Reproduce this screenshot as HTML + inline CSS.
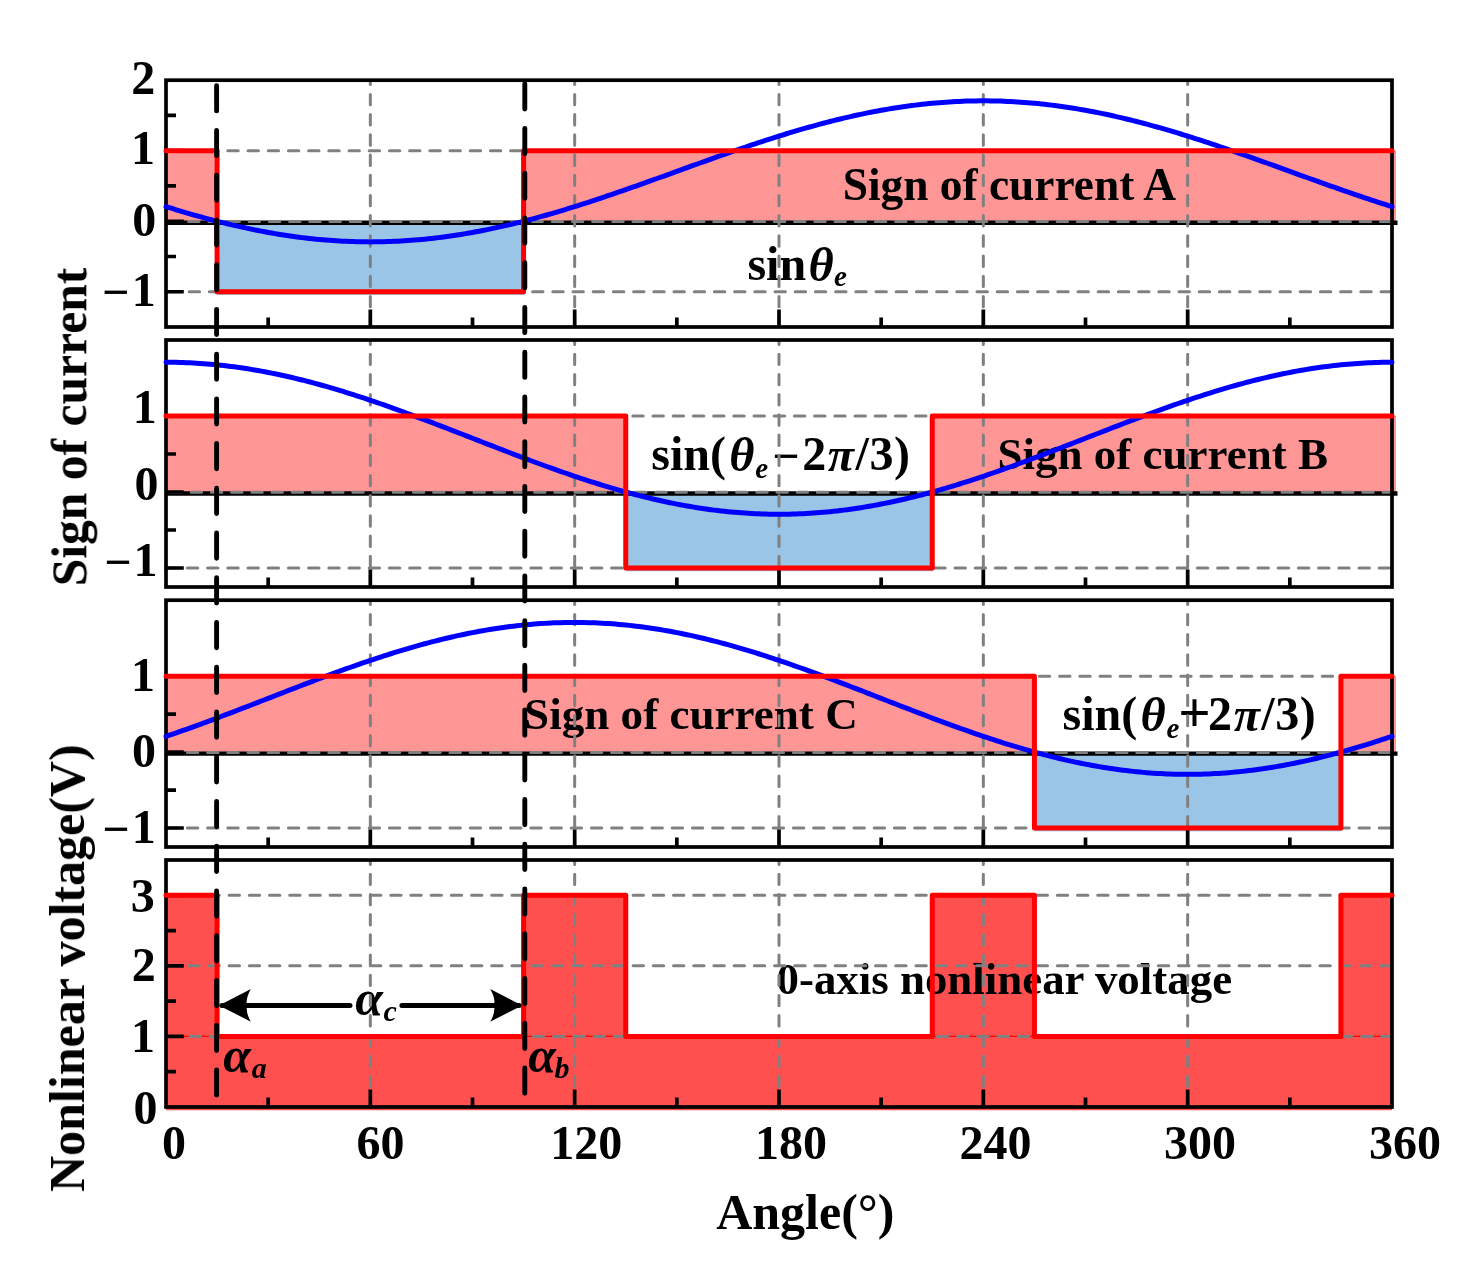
<!DOCTYPE html><html><head><meta charset="utf-8"><style>html,body{margin:0;padding:0;background:#fff;overflow:hidden}svg{display:block;will-change:transform}text{font-family:"Liberation Serif",serif;font-weight:bold;fill:#000}.it{font-style:italic}</style></head><body>
<svg width="1483" height="1279" viewBox="0 0 1483 1279">
<rect x="166.00" y="150.71" width="51.08" height="70.51" fill="#ff9696"/>
<rect x="217.08" y="221.23" width="307.50" height="73.81" fill="#9bc5e6"/>
<rect x="523.58" y="150.71" width="872.42" height="70.51" fill="#ff9696"/>
<rect x="166.00" y="416.00" width="459.75" height="76.00" fill="#ff9696"/>
<rect x="625.75" y="492.00" width="307.50" height="79.30" fill="#9bc5e6"/>
<rect x="932.25" y="416.00" width="463.75" height="76.00" fill="#ff9696"/>
<rect x="166.00" y="676.14" width="868.42" height="75.94" fill="#ff9696"/>
<rect x="1034.42" y="752.08" width="307.50" height="79.24" fill="#9bc5e6"/>
<rect x="1340.92" y="676.14" width="55.08" height="75.94" fill="#ff9696"/>
<polygon fill="#ff5050" points="166.00,1110.20 166.00,895.29 217.08,895.29 217.08,1036.43 523.58,1036.43 523.58,895.29 625.75,895.29 625.75,1036.43 932.25,1036.43 932.25,895.29 1034.42,895.29 1034.42,1036.43 1340.92,1036.43 1340.92,895.29 1392.00,895.29 1392.00,1110.20"/>
<g opacity="0.999"><text x="842.68" y="200.00" font-size="45.4">Sign of current A</text><text x="997.50" y="469.00" font-size="45.0">Sign of current B</text><text x="524.10" y="728.80" font-size="45.1">Sign of current C</text><text x="776.49" y="994.30" font-size="44.9">0-axis nonlinear voltage</text><text x="747.45" y="280.10" font-size="48">sin</text><text x="808.38" y="280.60" font-size="48.5" font-style="italic">θ</text><text x="834.12" y="286.30" font-size="29" font-style="italic">e</text><text x="651.25" y="469.70" font-size="48">sin(</text><text x="729.28" y="470.70" font-size="48.5" font-style="italic">θ</text><text x="755.22" y="477.70" font-size="29" font-style="italic">e</text><text x="772.37" y="471.70" font-size="48">−</text><text x="802.18" y="469.70" font-size="48">2</text><text x="827.85" y="470.70" font-size="48" font-style="italic">π</text><text x="855.47" y="469.70" font-size="48">/</text><text x="869.40" y="469.70" font-size="48">3</text><text x="894.05" y="469.70" font-size="48">)</text><text x="1062.55" y="729.60" font-size="48">sin(</text><text x="1140.58" y="730.60" font-size="48.5" font-style="italic">θ</text><text x="1166.52" y="737.60" font-size="29" font-style="italic">e</text><text x="1178.26" y="732.20" font-size="57" font-weight="normal">+</text><text x="1207.98" y="729.60" font-size="48">2</text><text x="1233.65" y="730.60" font-size="48" font-style="italic">π</text><text x="1261.27" y="729.60" font-size="48">/</text><text x="1275.20" y="729.60" font-size="48">3</text><text x="1299.85" y="729.60" font-size="48">)</text><text x="355.34" y="1015.30" font-size="50" font-style="italic">α</text><text x="383.46" y="1020.70" font-size="30" font-style="italic">c</text><text x="223.34" y="1071.60" font-size="50" font-style="italic">α</text><text x="251.65" y="1077.60" font-size="30" font-style="italic">a</text><text x="528.24" y="1071.80" font-size="50" font-style="italic">α</text><text x="554.50" y="1077.60" font-size="30" font-style="italic">b</text></g>
<line x1="166.00" y1="1036.43" x2="217.08" y2="1036.43" stroke="#ff0000" stroke-width="1.2"/>
<line x1="523.58" y1="1036.43" x2="625.75" y2="1036.43" stroke="#ff0000" stroke-width="1.2"/>
<line x1="932.25" y1="1036.43" x2="1034.42" y2="1036.43" stroke="#ff0000" stroke-width="1.2"/>
<line x1="1340.92" y1="1036.43" x2="1392.00" y2="1036.43" stroke="#ff0000" stroke-width="1.2"/>
<line x1="166.00" y1="222.73" x2="1397.50" y2="222.73" stroke="#000" stroke-width="4.4"/>
<line x1="166.00" y1="493.50" x2="1397.50" y2="493.50" stroke="#000" stroke-width="4.4"/>
<line x1="166.00" y1="753.58" x2="1397.50" y2="753.58" stroke="#000" stroke-width="4.4"/>
<line x1="370.33" y1="74.20" x2="370.33" y2="327.00" stroke="#808080" stroke-width="3" stroke-linecap="round" stroke-dasharray="10.4 9.8" clip-path="url(#cp0)"/>
<line x1="574.67" y1="74.20" x2="574.67" y2="327.00" stroke="#808080" stroke-width="3" stroke-linecap="round" stroke-dasharray="10.4 9.8" clip-path="url(#cp0)"/>
<line x1="779.00" y1="74.20" x2="779.00" y2="327.00" stroke="#808080" stroke-width="3" stroke-linecap="round" stroke-dasharray="10.4 9.8" clip-path="url(#cp0)"/>
<line x1="983.33" y1="74.20" x2="983.33" y2="327.00" stroke="#808080" stroke-width="3" stroke-linecap="round" stroke-dasharray="10.4 9.8" clip-path="url(#cp0)"/>
<line x1="1187.67" y1="74.20" x2="1187.67" y2="327.00" stroke="#808080" stroke-width="3" stroke-linecap="round" stroke-dasharray="10.4 9.8" clip-path="url(#cp0)"/>
<line x1="167.20" y1="150.71" x2="1390.00" y2="150.71" stroke="#808080" stroke-width="3" stroke-linecap="round" stroke-dasharray="10.4 9.8"/>
<line x1="168.40" y1="221.53" x2="1390.00" y2="221.53" stroke="#808080" stroke-width="3" stroke-linecap="round" stroke-dasharray="10.4 9.8"/>
<line x1="169.00" y1="291.74" x2="1390.00" y2="291.74" stroke="#808080" stroke-width="3" stroke-linecap="round" stroke-dasharray="10.4 9.8"/>
<line x1="370.33" y1="334.00" x2="370.33" y2="587.00" stroke="#808080" stroke-width="3" stroke-linecap="round" stroke-dasharray="10.4 9.8" clip-path="url(#cp1)"/>
<line x1="574.67" y1="334.00" x2="574.67" y2="587.00" stroke="#808080" stroke-width="3" stroke-linecap="round" stroke-dasharray="10.4 9.8" clip-path="url(#cp1)"/>
<line x1="779.00" y1="334.00" x2="779.00" y2="587.00" stroke="#808080" stroke-width="3" stroke-linecap="round" stroke-dasharray="10.4 9.8" clip-path="url(#cp1)"/>
<line x1="983.33" y1="334.00" x2="983.33" y2="587.00" stroke="#808080" stroke-width="3" stroke-linecap="round" stroke-dasharray="10.4 9.8" clip-path="url(#cp1)"/>
<line x1="1187.67" y1="334.00" x2="1187.67" y2="587.00" stroke="#808080" stroke-width="3" stroke-linecap="round" stroke-dasharray="10.4 9.8" clip-path="url(#cp1)"/>
<line x1="168.20" y1="416.00" x2="1390.00" y2="416.00" stroke="#808080" stroke-width="3" stroke-linecap="round" stroke-dasharray="10.4 9.8"/>
<line x1="171.00" y1="492.30" x2="1390.00" y2="492.30" stroke="#808080" stroke-width="3" stroke-linecap="round" stroke-dasharray="10.4 9.8"/>
<line x1="167.20" y1="568.00" x2="1390.00" y2="568.00" stroke="#808080" stroke-width="3" stroke-linecap="round" stroke-dasharray="10.4 9.8"/>
<line x1="370.33" y1="594.20" x2="370.33" y2="847.00" stroke="#808080" stroke-width="3" stroke-linecap="round" stroke-dasharray="10.4 9.8" clip-path="url(#cp2)"/>
<line x1="574.67" y1="594.20" x2="574.67" y2="847.00" stroke="#808080" stroke-width="3" stroke-linecap="round" stroke-dasharray="10.4 9.8" clip-path="url(#cp2)"/>
<line x1="779.00" y1="594.20" x2="779.00" y2="847.00" stroke="#808080" stroke-width="3" stroke-linecap="round" stroke-dasharray="10.4 9.8" clip-path="url(#cp2)"/>
<line x1="983.33" y1="594.20" x2="983.33" y2="847.00" stroke="#808080" stroke-width="3" stroke-linecap="round" stroke-dasharray="10.4 9.8" clip-path="url(#cp2)"/>
<line x1="1187.67" y1="594.20" x2="1187.67" y2="847.00" stroke="#808080" stroke-width="3" stroke-linecap="round" stroke-dasharray="10.4 9.8" clip-path="url(#cp2)"/>
<line x1="170.80" y1="676.14" x2="1390.00" y2="676.14" stroke="#808080" stroke-width="3" stroke-linecap="round" stroke-dasharray="10.4 9.8"/>
<line x1="167.20" y1="752.38" x2="1390.00" y2="752.38" stroke="#808080" stroke-width="3" stroke-linecap="round" stroke-dasharray="10.4 9.8"/>
<line x1="167.20" y1="828.02" x2="1390.00" y2="828.02" stroke="#808080" stroke-width="3" stroke-linecap="round" stroke-dasharray="10.4 9.8"/>
<line x1="370.33" y1="854.00" x2="370.33" y2="1107.00" stroke="#808080" stroke-width="3" stroke-linecap="round" stroke-dasharray="10.4 9.8" clip-path="url(#cp3)"/>
<line x1="574.67" y1="854.00" x2="574.67" y2="1107.00" stroke="#808080" stroke-width="3" stroke-linecap="round" stroke-dasharray="10.4 9.8" clip-path="url(#cp3)"/>
<line x1="779.00" y1="854.00" x2="779.00" y2="1107.00" stroke="#808080" stroke-width="3" stroke-linecap="round" stroke-dasharray="10.4 9.8" clip-path="url(#cp3)"/>
<line x1="983.33" y1="854.00" x2="983.33" y2="1107.00" stroke="#808080" stroke-width="3" stroke-linecap="round" stroke-dasharray="10.4 9.8" clip-path="url(#cp3)"/>
<line x1="1187.67" y1="854.00" x2="1187.67" y2="1107.00" stroke="#808080" stroke-width="3" stroke-linecap="round" stroke-dasharray="10.4 9.8" clip-path="url(#cp3)"/>
<line x1="169.80" y1="1036.43" x2="1390.00" y2="1036.43" stroke="#808080" stroke-width="3" stroke-linecap="round" stroke-dasharray="10.4 9.8"/>
<line x1="168.50" y1="965.86" x2="1390.00" y2="965.86" stroke="#808080" stroke-width="3" stroke-linecap="round" stroke-dasharray="10.4 9.8"/>
<line x1="168.50" y1="895.29" x2="1390.00" y2="895.29" stroke="#808080" stroke-width="3" stroke-linecap="round" stroke-dasharray="10.4 9.8"/>
<defs><clipPath id="cp0"><rect x="0" y="80.20" width="1483" height="246.80"/></clipPath><clipPath id="cp1"><rect x="0" y="340.00" width="1483" height="247.00"/></clipPath><clipPath id="cp2"><rect x="0" y="600.20" width="1483" height="246.80"/></clipPath><clipPath id="cp3"><rect x="0" y="860.00" width="1483" height="247.00"/></clipPath></defs>
<rect x="166.00" y="80.20" width="1226.00" height="246.80" fill="none" stroke="#000" stroke-width="3.7"/>
<path d="M166.00 291.74h17.8M166.00 256.49h10M166.00 221.23h17.8M166.00 185.97h10M166.00 150.71h17.8M166.00 115.46h10M268.17 327.00v-9.6M370.33 327.00v-17.6M472.50 327.00v-9.6M574.67 327.00v-17.6M676.83 327.00v-9.6M779.00 327.00v-17.6M881.17 327.00v-9.6M983.33 327.00v-17.6M1085.50 327.00v-9.6M1187.67 327.00v-17.6M1289.83 327.00v-9.6" stroke="#000" stroke-width="3.7" fill="none"/>
<rect x="166.00" y="340.00" width="1226.00" height="247.00" fill="none" stroke="#000" stroke-width="3.7"/>
<path d="M166.00 568.00h17.8M166.00 530.00h10M166.00 492.00h17.8M166.00 454.00h10M166.00 416.00h17.8M268.17 587.00v-9.6M370.33 587.00v-17.6M472.50 587.00v-9.6M574.67 587.00v-17.6M676.83 587.00v-9.6M779.00 587.00v-17.6M881.17 587.00v-9.6M983.33 587.00v-17.6M1085.50 587.00v-9.6M1187.67 587.00v-17.6M1289.83 587.00v-9.6" stroke="#000" stroke-width="3.7" fill="none"/>
<rect x="166.00" y="600.20" width="1226.00" height="246.80" fill="none" stroke="#000" stroke-width="3.7"/>
<path d="M166.00 828.02h17.8M166.00 790.05h10M166.00 752.08h17.8M166.00 714.11h10M166.00 676.14h17.8M268.17 847.00v-9.6M370.33 847.00v-17.6M472.50 847.00v-9.6M574.67 847.00v-17.6M676.83 847.00v-9.6M779.00 847.00v-17.6M881.17 847.00v-9.6M983.33 847.00v-17.6M1085.50 847.00v-9.6M1187.67 847.00v-17.6M1289.83 847.00v-9.6" stroke="#000" stroke-width="3.7" fill="none"/>
<rect x="166.00" y="860.00" width="1226.00" height="247.00" fill="none" stroke="#000" stroke-width="3.7"/>
<path d="M166.00 1071.71h10M166.00 1036.43h17.8M166.00 1001.14h10M166.00 965.86h17.8M166.00 930.57h10M166.00 895.29h17.8M268.17 1107.00v-9.6M370.33 1107.00v-17.6M472.50 1107.00v-9.6M574.67 1107.00v-17.6M676.83 1107.00v-9.6M779.00 1107.00v-17.6M881.17 1107.00v-9.6M983.33 1107.00v-17.6M1085.50 1107.00v-9.6M1187.67 1107.00v-17.6M1289.83 1107.00v-9.6" stroke="#000" stroke-width="3.7" fill="none"/>
<path d="M166.00 206.63L169.41 207.69L172.81 208.73L176.22 209.77L179.62 210.80L183.03 211.81L186.43 212.82L189.84 213.80L193.24 214.78L196.65 215.74L200.06 216.69L203.46 217.63L206.87 218.55L210.27 219.46L213.68 220.35L217.08 221.23L220.49 222.09L223.89 222.94L227.30 223.77L230.71 224.59L234.11 225.38L237.52 226.17L240.92 226.93L244.33 227.68L247.73 228.42L251.14 229.13L254.54 229.83L257.95 230.51L261.36 231.17L264.76 231.81L268.17 232.44L271.57 233.04L274.98 233.63L278.38 234.20L281.79 234.75L285.19 235.28L288.60 235.79L292.01 236.28L295.41 236.75L298.82 237.20L302.22 237.63L305.63 238.04L309.03 238.43L312.44 238.80L315.84 239.15L319.25 239.48L322.66 239.79L326.06 240.07L329.47 240.34L332.87 240.59L336.28 240.81L339.68 241.01L343.09 241.20L346.49 241.36L349.90 241.50L353.31 241.61L356.71 241.71L360.12 241.79L363.52 241.84L366.93 241.87L370.33 241.88L373.74 241.87L377.14 241.84L380.55 241.79L383.96 241.71L387.36 241.61L390.77 241.50L394.17 241.36L397.58 241.20L400.98 241.01L404.39 240.81L407.79 240.59L411.20 240.34L414.61 240.07L418.01 239.79L421.42 239.48L424.82 239.15L428.23 238.80L431.63 238.43L435.04 238.04L438.44 237.63L441.85 237.20L445.26 236.75L448.66 236.28L452.07 235.79L455.47 235.28L458.88 234.75L462.28 234.20L465.69 233.63L469.09 233.04L472.50 232.44L475.91 231.81L479.31 231.17L482.72 230.51L486.12 229.83L489.53 229.13L492.93 228.42L496.34 227.68L499.74 226.93L503.15 226.17L506.56 225.38L509.96 224.59L513.37 223.77L516.77 222.94L520.18 222.09L523.58 221.23L526.99 220.35L530.39 219.46L533.80 218.55L537.21 217.63L540.61 216.69L544.02 215.74L547.42 214.78L550.83 213.80L554.23 212.82L557.64 211.81L561.04 210.80L564.45 209.77L567.86 208.73L571.26 207.69L574.67 206.63L578.07 205.55L581.48 204.47L584.88 203.38L588.29 202.28L591.69 201.17L595.10 200.05L598.51 198.92L601.91 197.78L605.32 196.64L608.72 195.49L612.13 194.33L615.53 193.16L618.94 191.98L622.34 190.80L625.75 189.62L629.16 188.43L632.56 187.23L635.97 186.03L639.37 184.82L642.78 183.61L646.18 182.40L649.59 181.18L652.99 179.96L656.40 178.74L659.81 177.51L663.21 176.29L666.62 175.06L670.02 173.83L673.43 172.60L676.83 171.37L680.24 170.14L683.64 168.91L687.05 167.68L690.46 166.45L693.86 165.22L697.27 164.00L700.67 162.77L704.08 161.55L707.48 160.34L710.89 159.12L714.29 157.91L717.70 156.71L721.11 155.51L724.51 154.31L727.92 153.12L731.32 151.93L734.73 150.75L738.13 149.58L741.54 148.41L744.94 147.25L748.35 146.10L751.76 144.95L755.16 143.82L758.57 142.69L761.97 141.57L765.38 140.46L768.78 139.36L772.19 138.26L775.59 137.18L779.00 136.11L782.41 135.05L785.81 134.00L789.22 132.96L792.62 131.94L796.03 130.92L799.43 129.92L802.84 128.93L806.24 127.95L809.65 126.99L813.06 126.04L816.46 125.11L819.87 124.18L823.27 123.28L826.68 122.38L830.08 121.51L833.49 120.64L836.89 119.80L840.30 118.97L843.71 118.15L847.11 117.35L850.52 116.57L853.92 115.80L857.33 115.05L860.73 114.32L864.14 113.61L867.54 112.91L870.95 112.23L874.36 111.57L877.76 110.93L881.17 110.30L884.57 109.69L887.98 109.11L891.38 108.54L894.79 107.99L898.19 107.46L901.60 106.95L905.01 106.46L908.41 105.99L911.82 105.54L915.22 105.11L918.63 104.70L922.03 104.30L925.44 103.93L928.84 103.59L932.25 103.26L935.66 102.95L939.06 102.66L942.47 102.39L945.87 102.15L949.28 101.92L952.68 101.72L956.09 101.54L959.49 101.38L962.90 101.24L966.31 101.12L969.71 101.03L973.12 100.95L976.52 100.90L979.93 100.86L983.33 100.85L986.74 100.86L990.14 100.90L993.55 100.95L996.96 101.03L1000.36 101.12L1003.77 101.24L1007.17 101.38L1010.58 101.54L1013.98 101.72L1017.39 101.92L1020.79 102.15L1024.20 102.39L1027.61 102.66L1031.01 102.95L1034.42 103.26L1037.82 103.59L1041.23 103.93L1044.63 104.30L1048.04 104.70L1051.44 105.11L1054.85 105.54L1058.26 105.99L1061.66 106.46L1065.07 106.95L1068.47 107.46L1071.88 107.99L1075.28 108.54L1078.69 109.11L1082.09 109.69L1085.50 110.30L1088.91 110.93L1092.31 111.57L1095.72 112.23L1099.12 112.91L1102.53 113.61L1105.93 114.32L1109.34 115.05L1112.74 115.80L1116.15 116.57L1119.56 117.35L1122.96 118.15L1126.37 118.97L1129.77 119.80L1133.18 120.64L1136.58 121.51L1139.99 122.38L1143.39 123.28L1146.80 124.18L1150.21 125.11L1153.61 126.04L1157.02 126.99L1160.42 127.95L1163.83 128.93L1167.23 129.92L1170.64 130.92L1174.04 131.94L1177.45 132.96L1180.86 134.00L1184.26 135.05L1187.67 136.11L1191.07 137.18L1194.48 138.26L1197.88 139.36L1201.29 140.46L1204.69 141.57L1208.10 142.69L1211.51 143.82L1214.91 144.95L1218.32 146.10L1221.72 147.25L1225.13 148.41L1228.53 149.58L1231.94 150.75L1235.34 151.93L1238.75 153.12L1242.16 154.31L1245.56 155.51L1248.97 156.71L1252.37 157.91L1255.78 159.12L1259.18 160.34L1262.59 161.55L1265.99 162.77L1269.40 164.00L1272.81 165.22L1276.21 166.45L1279.62 167.68L1283.02 168.91L1286.43 170.14L1289.83 171.37L1293.24 172.60L1296.64 173.83L1300.05 175.06L1303.46 176.29L1306.86 177.51L1310.27 178.74L1313.67 179.96L1317.08 181.18L1320.48 182.40L1323.89 183.61L1327.29 184.82L1330.70 186.03L1334.11 187.23L1337.51 188.43L1340.92 189.62L1344.32 190.80L1347.73 191.98L1351.13 193.16L1354.54 194.33L1357.94 195.49L1361.35 196.64L1364.76 197.78L1368.16 198.92L1371.57 200.05L1374.97 201.17L1378.38 202.28L1381.78 203.38L1385.19 204.47L1388.59 205.55L1392.00 206.63" stroke="#0000ff" stroke-width="5" fill="none" stroke-linecap="round" stroke-linejoin="round"/>
<path d="M166.00 362.26L169.41 362.27L172.81 362.31L176.22 362.36L179.62 362.45L183.03 362.55L186.43 362.68L189.84 362.83L193.24 363.00L196.65 363.20L200.06 363.42L203.46 363.66L206.87 363.92L210.27 364.21L213.68 364.52L217.08 364.85L220.49 365.20L223.89 365.58L227.30 365.98L230.71 366.40L234.11 366.84L237.52 367.31L240.92 367.79L244.33 368.30L247.73 368.83L251.14 369.38L254.54 369.95L257.95 370.54L261.36 371.16L264.76 371.79L268.17 372.44L271.57 373.12L274.98 373.81L278.38 374.52L281.79 375.25L285.19 376.00L288.60 376.78L292.01 377.56L295.41 378.37L298.82 379.20L302.22 380.04L305.63 380.90L309.03 381.78L312.44 382.68L315.84 383.59L319.25 384.52L322.66 385.47L326.06 386.43L329.47 387.41L332.87 388.40L336.28 389.41L339.68 390.43L343.09 391.47L346.49 392.52L349.90 393.59L353.31 394.67L356.71 395.76L360.12 396.87L363.52 397.99L366.93 399.12L370.33 400.26L373.74 401.41L377.14 402.58L380.55 403.76L383.96 404.94L387.36 406.14L390.77 407.35L394.17 408.56L397.58 409.79L400.98 411.02L404.39 412.27L407.79 413.52L411.20 414.78L414.61 416.04L418.01 417.31L421.42 418.59L424.82 419.87L428.23 421.16L431.63 422.46L435.04 423.76L438.44 425.06L441.85 426.37L445.26 427.68L448.66 429.00L452.07 430.32L455.47 431.64L458.88 432.96L462.28 434.28L465.69 435.61L469.09 436.93L472.50 438.26L475.91 439.59L479.31 440.91L482.72 442.24L486.12 443.56L489.53 444.88L492.93 446.20L496.34 447.52L499.74 448.84L503.15 450.15L506.56 451.46L509.96 452.76L513.37 454.06L516.77 455.36L520.18 456.65L523.58 457.93L526.99 459.21L530.39 460.48L533.80 461.75L537.21 463.00L540.61 464.25L544.02 465.50L547.42 466.73L550.83 467.96L554.23 469.17L557.64 470.38L561.04 471.58L564.45 472.76L567.86 473.94L571.26 475.11L574.67 476.26L578.07 477.40L581.48 478.53L584.88 479.65L588.29 480.76L591.69 481.85L595.10 482.93L598.51 484.00L601.91 485.05L605.32 486.09L608.72 487.11L612.13 488.12L615.53 489.11L618.94 490.09L622.34 491.05L625.75 492.00L629.16 492.93L632.56 493.84L635.97 494.74L639.37 495.62L642.78 496.48L646.18 497.32L649.59 498.15L652.99 498.96L656.40 499.75L659.81 500.52L663.21 501.27L666.62 502.00L670.02 502.71L673.43 503.41L676.83 504.08L680.24 504.73L683.64 505.36L687.05 505.98L690.46 506.57L693.86 507.14L697.27 507.69L700.67 508.22L704.08 508.73L707.48 509.21L710.89 509.68L714.29 510.12L717.70 510.54L721.11 510.94L724.51 511.32L727.92 511.67L731.32 512.00L734.73 512.31L738.13 512.60L741.54 512.86L744.94 513.11L748.35 513.32L751.76 513.52L755.16 513.69L758.57 513.84L761.97 513.97L765.38 514.08L768.78 514.16L772.19 514.21L775.59 514.25L779.00 514.26L782.41 514.25L785.81 514.21L789.22 514.16L792.62 514.08L796.03 513.97L799.43 513.84L802.84 513.69L806.24 513.52L809.65 513.32L813.06 513.11L816.46 512.86L819.87 512.60L823.27 512.31L826.68 512.00L830.08 511.67L833.49 511.32L836.89 510.94L840.30 510.54L843.71 510.12L847.11 509.68L850.52 509.21L853.92 508.73L857.33 508.22L860.73 507.69L864.14 507.14L867.54 506.57L870.95 505.98L874.36 505.36L877.76 504.73L881.17 504.08L884.57 503.41L887.98 502.71L891.38 502.00L894.79 501.27L898.19 500.52L901.60 499.75L905.01 498.96L908.41 498.15L911.82 497.32L915.22 496.48L918.63 495.62L922.03 494.74L925.44 493.84L928.84 492.93L932.25 492.00L935.66 491.05L939.06 490.09L942.47 489.11L945.87 488.12L949.28 487.11L952.68 486.09L956.09 485.05L959.49 484.00L962.90 482.93L966.31 481.85L969.71 480.76L973.12 479.65L976.52 478.53L979.93 477.40L983.33 476.26L986.74 475.11L990.14 473.94L993.55 472.76L996.96 471.58L1000.36 470.38L1003.77 469.17L1007.17 467.96L1010.58 466.73L1013.98 465.50L1017.39 464.25L1020.79 463.00L1024.20 461.75L1027.61 460.48L1031.01 459.21L1034.42 457.93L1037.82 456.65L1041.23 455.36L1044.63 454.06L1048.04 452.76L1051.44 451.46L1054.85 450.15L1058.26 448.84L1061.66 447.52L1065.07 446.20L1068.47 444.88L1071.88 443.56L1075.28 442.24L1078.69 440.91L1082.09 439.59L1085.50 438.26L1088.91 436.93L1092.31 435.61L1095.72 434.28L1099.12 432.96L1102.53 431.64L1105.93 430.32L1109.34 429.00L1112.74 427.68L1116.15 426.37L1119.56 425.06L1122.96 423.76L1126.37 422.46L1129.77 421.16L1133.18 419.87L1136.58 418.59L1139.99 417.31L1143.39 416.04L1146.80 414.78L1150.21 413.52L1153.61 412.27L1157.02 411.02L1160.42 409.79L1163.83 408.56L1167.23 407.35L1170.64 406.14L1174.04 404.94L1177.45 403.76L1180.86 402.58L1184.26 401.41L1187.67 400.26L1191.07 399.12L1194.48 397.99L1197.88 396.87L1201.29 395.76L1204.69 394.67L1208.10 393.59L1211.51 392.52L1214.91 391.47L1218.32 390.43L1221.72 389.41L1225.13 388.40L1228.53 387.41L1231.94 386.43L1235.34 385.47L1238.75 384.52L1242.16 383.59L1245.56 382.68L1248.97 381.78L1252.37 380.90L1255.78 380.04L1259.18 379.20L1262.59 378.37L1265.99 377.56L1269.40 376.78L1272.81 376.00L1276.21 375.25L1279.62 374.52L1283.02 373.81L1286.43 373.12L1289.83 372.44L1293.24 371.79L1296.64 371.16L1300.05 370.54L1303.46 369.95L1306.86 369.38L1310.27 368.83L1313.67 368.30L1317.08 367.79L1320.48 367.31L1323.89 366.84L1327.29 366.40L1330.70 365.98L1334.11 365.58L1337.51 365.20L1340.92 364.85L1344.32 364.52L1347.73 364.21L1351.13 363.92L1354.54 363.66L1357.94 363.42L1361.35 363.20L1364.76 363.00L1368.16 362.83L1371.57 362.68L1374.97 362.55L1378.38 362.45L1381.78 362.36L1385.19 362.31L1388.59 362.27L1392.00 362.26" stroke="#0000ff" stroke-width="5" fill="none" stroke-linecap="round" stroke-linejoin="round"/>
<path d="M166.00 736.35L169.41 735.20L172.81 734.03L176.22 732.86L179.62 731.67L183.03 730.47L186.43 729.27L189.84 728.05L193.24 726.83L196.65 725.59L200.06 724.35L203.46 723.10L206.87 721.85L210.27 720.58L213.68 719.31L217.08 718.04L220.49 716.75L223.89 715.46L227.30 714.17L230.71 712.87L234.11 711.57L237.52 710.26L240.92 708.95L244.33 707.64L247.73 706.32L251.14 705.00L254.54 703.68L257.95 702.36L261.36 701.03L264.76 699.71L268.17 698.38L271.57 697.06L274.98 695.73L278.38 694.41L281.79 693.08L285.19 691.76L288.60 690.44L292.01 689.13L295.41 687.81L298.82 686.50L302.22 685.19L305.63 683.89L309.03 682.59L312.44 681.30L315.84 680.01L319.25 678.73L322.66 677.45L326.06 676.18L329.47 674.91L332.87 673.66L336.28 672.41L339.68 671.17L343.09 669.93L346.49 668.71L349.90 667.49L353.31 666.29L356.71 665.09L360.12 663.91L363.52 662.73L366.93 661.57L370.33 660.41L373.74 659.27L377.14 658.14L380.55 657.02L383.96 655.92L387.36 654.82L390.77 653.75L394.17 652.68L397.58 651.63L400.98 650.59L404.39 649.57L407.79 648.56L411.20 647.57L414.61 646.59L418.01 645.63L421.42 644.68L424.82 643.76L428.23 642.84L431.63 641.95L435.04 641.07L438.44 640.21L441.85 639.37L445.26 638.54L448.66 637.73L452.07 636.95L455.47 636.18L458.88 635.42L462.28 634.69L465.69 633.98L469.09 633.29L472.50 632.62L475.91 631.96L479.31 631.33L482.72 630.72L486.12 630.13L489.53 629.56L492.93 629.01L496.34 628.48L499.74 627.97L503.15 627.49L506.56 627.02L509.96 626.58L513.37 626.16L516.77 625.76L520.18 625.38L523.58 625.03L526.99 624.70L530.39 624.39L533.80 624.10L537.21 623.84L540.61 623.60L544.02 623.38L547.42 623.18L550.83 623.01L554.23 622.86L557.64 622.73L561.04 622.63L564.45 622.55L567.86 622.49L571.26 622.45L574.67 622.44L578.07 622.45L581.48 622.49L584.88 622.55L588.29 622.63L591.69 622.73L595.10 622.86L598.51 623.01L601.91 623.18L605.32 623.38L608.72 623.60L612.13 623.84L615.53 624.10L618.94 624.39L622.34 624.70L625.75 625.03L629.16 625.38L632.56 625.76L635.97 626.16L639.37 626.58L642.78 627.02L646.18 627.49L649.59 627.97L652.99 628.48L656.40 629.01L659.81 629.56L663.21 630.13L666.62 630.72L670.02 631.33L673.43 631.96L676.83 632.62L680.24 633.29L683.64 633.98L687.05 634.69L690.46 635.42L693.86 636.18L697.27 636.95L700.67 637.73L704.08 638.54L707.48 639.37L710.89 640.21L714.29 641.07L717.70 641.95L721.11 642.84L724.51 643.76L727.92 644.68L731.32 645.63L734.73 646.59L738.13 647.57L741.54 648.56L744.94 649.57L748.35 650.59L751.76 651.63L755.16 652.68L758.57 653.75L761.97 654.82L765.38 655.92L768.78 657.02L772.19 658.14L775.59 659.27L779.00 660.41L782.41 661.57L785.81 662.73L789.22 663.91L792.62 665.09L796.03 666.29L799.43 667.49L802.84 668.71L806.24 669.93L809.65 671.17L813.06 672.41L816.46 673.66L819.87 674.91L823.27 676.18L826.68 677.45L830.08 678.73L833.49 680.01L836.89 681.30L840.30 682.59L843.71 683.89L847.11 685.19L850.52 686.50L853.92 687.81L857.33 689.13L860.73 690.44L864.14 691.76L867.54 693.08L870.95 694.41L874.36 695.73L877.76 697.06L881.17 698.38L884.57 699.71L887.98 701.03L891.38 702.36L894.79 703.68L898.19 705.00L901.60 706.32L905.01 707.64L908.41 708.95L911.82 710.26L915.22 711.57L918.63 712.87L922.03 714.17L925.44 715.46L928.84 716.75L932.25 718.04L935.66 719.31L939.06 720.58L942.47 721.85L945.87 723.10L949.28 724.35L952.68 725.59L956.09 726.83L959.49 728.05L962.90 729.27L966.31 730.47L969.71 731.67L973.12 732.86L976.52 734.03L979.93 735.20L983.33 736.35L986.74 737.49L990.14 738.62L993.55 739.74L996.96 740.85L1000.36 741.94L1003.77 743.02L1007.17 744.08L1010.58 745.13L1013.98 746.17L1017.39 747.19L1020.79 748.20L1024.20 749.19L1027.61 750.17L1031.01 751.13L1034.42 752.08L1037.82 753.01L1041.23 753.92L1044.63 754.81L1048.04 755.69L1051.44 756.55L1054.85 757.40L1058.26 758.22L1061.66 759.03L1065.07 759.82L1068.47 760.59L1071.88 761.34L1075.28 762.07L1078.69 762.78L1082.09 763.47L1085.50 764.15L1088.91 764.80L1092.31 765.43L1095.72 766.04L1099.12 766.63L1102.53 767.20L1105.93 767.75L1109.34 768.28L1112.74 768.79L1116.15 769.28L1119.56 769.74L1122.96 770.18L1126.37 770.60L1129.77 771.00L1133.18 771.38L1136.58 771.73L1139.99 772.06L1143.39 772.37L1146.80 772.66L1150.21 772.92L1153.61 773.17L1157.02 773.38L1160.42 773.58L1163.83 773.75L1167.23 773.90L1170.64 774.03L1174.04 774.13L1177.45 774.22L1180.86 774.27L1184.26 774.31L1187.67 774.32L1191.07 774.31L1194.48 774.27L1197.88 774.22L1201.29 774.13L1204.69 774.03L1208.10 773.90L1211.51 773.75L1214.91 773.58L1218.32 773.38L1221.72 773.17L1225.13 772.92L1228.53 772.66L1231.94 772.37L1235.34 772.06L1238.75 771.73L1242.16 771.38L1245.56 771.00L1248.97 770.60L1252.37 770.18L1255.78 769.74L1259.18 769.28L1262.59 768.79L1265.99 768.28L1269.40 767.75L1272.81 767.20L1276.21 766.63L1279.62 766.04L1283.02 765.43L1286.43 764.80L1289.83 764.15L1293.24 763.47L1296.64 762.78L1300.05 762.07L1303.46 761.34L1306.86 760.59L1310.27 759.82L1313.67 759.03L1317.08 758.22L1320.48 757.40L1323.89 756.55L1327.29 755.69L1330.70 754.81L1334.11 753.92L1337.51 753.01L1340.92 752.08L1344.32 751.13L1347.73 750.17L1351.13 749.19L1354.54 748.20L1357.94 747.19L1361.35 746.17L1364.76 745.13L1368.16 744.08L1371.57 743.02L1374.97 741.94L1378.38 740.85L1381.78 739.74L1385.19 738.62L1388.59 737.49L1392.00 736.35" stroke="#0000ff" stroke-width="5" fill="none" stroke-linecap="round" stroke-linejoin="round"/>
<path d="M166.00 150.71L217.08 150.71L217.08 291.74L523.58 291.74L523.58 150.71L1392.00 150.71" stroke="#ff0000" stroke-width="5" fill="none" stroke-linecap="round" stroke-linejoin="round"/>
<path d="M166.00 416.00L625.75 416.00L625.75 568.00L932.25 568.00L932.25 416.00L1392.00 416.00" stroke="#ff0000" stroke-width="5" fill="none" stroke-linecap="round" stroke-linejoin="round"/>
<path d="M166.00 676.14L1034.42 676.14L1034.42 828.02L1340.92 828.02L1340.92 676.14L1392.00 676.14" stroke="#ff0000" stroke-width="5" fill="none" stroke-linecap="round" stroke-linejoin="round"/>
<path d="M166.00 895.29L217.08 895.29L217.08 1036.43L523.58 1036.43L523.58 895.29L625.75 895.29L625.75 1036.43L932.25 1036.43L932.25 895.29L1034.42 895.29L1034.42 1036.43L1340.92 1036.43L1340.92 895.29L1392.00 895.29" stroke="#ff0000" stroke-width="5" fill="none" stroke-linecap="round" stroke-linejoin="round"/>
<line x1="216.6" y1="85.65" x2="216.6" y2="1095.3" stroke="#000" stroke-width="4.9" stroke-linecap="round" stroke-dasharray="25.24 19.5"/>
<line x1="524.8" y1="83.7" x2="524.8" y2="1095.3" stroke="#000" stroke-width="4.9" stroke-linecap="round" stroke-dasharray="25.24 19.5"/>
<path d="M222 1005.4H350M401.9 1005.4H519" stroke="#000" stroke-width="5" stroke-linecap="round"/>
<path d="M219 1005.4L250.9 989.1Q246 997 246.7 1005.4Q246 1014 250.9 1021.7Z" fill="#000"/>
<path d="M522.1 1005.4L490.2 989.1Q495.1 997 494.4 1005.4Q495.1 1014 490.2 1021.7Z" fill="#000"/>
<g opacity="0.999"><text x="155.26" y="94.00" font-size="48" text-anchor="end">2</text><text x="155.08" y="164.00" font-size="48" text-anchor="end">1</text><text x="156.13" y="235.70" font-size="48" text-anchor="end">0</text><text x="155.68" y="306.30" font-size="48" text-anchor="end">1</text><text x="102.07" y="307.80" font-size="48">−</text><text x="156.68" y="423.10" font-size="48" text-anchor="end">1</text><text x="158.43" y="499.50" font-size="48" text-anchor="end">0</text><text x="157.48" y="576.40" font-size="48" text-anchor="end">1</text><text x="104.27" y="577.90" font-size="48">−</text><text x="154.98" y="691.00" font-size="48" text-anchor="end">1</text><text x="156.03" y="767.40" font-size="48" text-anchor="end">0</text><text x="155.78" y="843.00" font-size="48" text-anchor="end">1</text><text x="102.37" y="844.50" font-size="48">−</text><text x="154.64" y="911.50" font-size="48" text-anchor="end">3</text><text x="155.66" y="981.40" font-size="48" text-anchor="end">2</text><text x="155.08" y="1052.00" font-size="48" text-anchor="end">1</text><text x="157.53" y="1123.60" font-size="48" text-anchor="end">0</text><text x="174.0" y="1159.4" font-size="48" text-anchor="middle">0</text><text x="380.4" y="1159.4" font-size="48" text-anchor="middle">60</text><text x="586.2" y="1159.4" font-size="48" text-anchor="middle">120</text><text x="791.1" y="1159.4" font-size="48" text-anchor="middle">180</text><text x="995.5" y="1159.4" font-size="48" text-anchor="middle">240</text><text x="1200" y="1159.4" font-size="48" text-anchor="middle">300</text><text x="1405" y="1159.4" font-size="48" text-anchor="middle">360</text>
<text x="805.3" y="1229" font-size="50" text-anchor="middle">Angle(°)</text>
<text transform="translate(86.3,427.0) rotate(-90)" font-size="49.6" text-anchor="middle">Sign of current</text>
<text transform="translate(84,968.2) rotate(-90)" font-size="50" text-anchor="middle">Nonlinear voltage(V)</text>
</g>
</svg></body></html>
